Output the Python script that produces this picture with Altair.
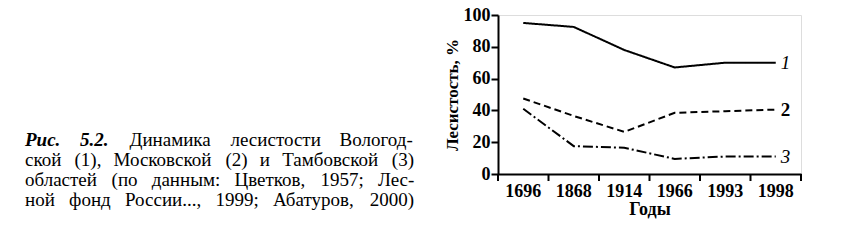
import altair as alt
import pandas as pd

# Forest cover (%) by year for three regions
years = ["1696", "1868", "1914", "1966", "1993", "1998"]
vologda = [95, 92.5, 78, 67, 70, 70]
moscow = [47.5, 36.5, 26.5, 38.5, 39.5, 40.5]
tambov = [41, 17.5, 16.5, 9.5, 11, 11]
series_names = ["1", "2", "3"]

caption_lines = [
    "Рис. 5.2. Динамика лесистости Вологод-",
    "ской (1), Московской (2) и Тамбовской (3)",
    "областей (по данным: Цветков, 1957; Лес-",
    "ной фонд России..., 1999; Абатуров, 2000)",
]
caption_bold_words = {"Рис.", "5.2."}

rows = []
for name, values in zip(series_names, [vologda, moscow, tambov]):
    for y, v in zip(years, values):
        rows.append({"year": y, "value": v, "series": name})
df = pd.DataFrame(rows)
last = df[df["year"] == years[-1]]

FONT = "Liberation Serif"
W, H = 303, 159
LEFT, TOP = 498, 15

x_scale = alt.Scale(type="band", paddingInner=0, paddingOuter=0)
x_axis = alt.Axis(
    title="Годы",
    ticks=False,
    labelAngle=0,
    labelFont=FONT,
    labelFontSize=18,
    labelFontWeight="bold",
    labelColor="black",
    labelPadding=8,
    labelOverlap=False,
    titleFont=FONT,
    titleFontSize=18,
    titleFontWeight="bold",
    titleColor="black",
    titlePadding=0,
    domainColor="black",
    domainWidth=2,
)
y_scale = alt.Scale(domain=[0, 100], nice=False, zero=True)
y_axis = alt.Axis(
    title="Лесистость, %",
    values=[0, 20, 40, 60, 80, 100],
    grid=False,
    tickSize=7,
    tickWidth=2,
    tickColor="black",
    labelFont=FONT,
    labelFontSize=18,
    labelFontWeight="bold",
    labelColor="black",
    labelPadding=1,
    labelOverlap=False,
    labelFlush=False,
    labelBound=False,
    titleFont=FONT,
    titleFontSize=17,
    titleFontWeight="bold",
    titleColor="black",
    titlePadding=2,
    domainColor="black",
    domainWidth=2,
)


def x_enc(**kw):
    return alt.X("year:O", sort=years, scale=x_scale, axis=x_axis, **kw)


def y_enc():
    return alt.Y("value:Q", scale=y_scale, axis=y_axis)


dash_styles = {"1": [1, 0], "2": [7, 4], "3": [10, 3, 2, 3]}

lines = []
for name in series_names:
    lines.append(
        alt.Chart(df[df["series"] == name])
        .mark_line(color="black", strokeWidth=2, strokeDash=dash_styles[name])
        .encode(x=x_enc(), y=y_enc())
    )

# Series numbers next to the line ends
label_styles = {"1": ("italic", "normal"), "2": ("normal", "bold"), "3": ("italic", "normal")}
labels = []
for name in series_names:
    style, weight = label_styles[name]
    labels.append(
        alt.Chart(last[last["series"] == name])
        .mark_text(
            align="left", baseline="middle", dx=5, font=FONT, fontSize=19,
            fontStyle=style, fontWeight=weight, color="black",
        )
        .encode(x=x_enc(), y=y_enc(), text="series:N")
    )

# Tick marks on the category boundaries
tick_df = pd.DataFrame({"year": years})
ticks = alt.Chart(tick_df).mark_rule(color="black", strokeWidth=2).encode(
    x=x_enc(bandPosition=0),
    y=alt.value(H),
    y2=alt.value(H + 7),
)
end_tick = alt.Chart(tick_df.head(1)).mark_rule(color="black", strokeWidth=2).encode(
    x=alt.value(W), y=alt.value(H), y2=alt.value(H + 7)
)

# Justified caption: approximate serif advance widths (em) for word layout
ADV = {
    "а": .444, "б": .509, "в": .472, "г": .410, "д": .509, "е": .444, "ж": .691,
    "з": .395, "и": .535, "й": .535, "к": .486, "л": .499, "м": .633, "н": .535,
    "о": .5, "п": .535, "р": .5, "с": .444, "т": .437, "у": .5, "ф": .648,
    "х": .5, "ц": .535, "ч": .503, "ш": .770, "щ": .770, "ъ": .517, "ы": .672,
    "ь": .456, "э": .429, "ю": .747, "я": .486,
    "А": .722, "Б": .574, "В": .667, "Г": .578, "Д": .682, "Л": .677, "М": .889,
    "Р": .556, "Т": .611, "Ц": .722,
    "(": .333, ")": .333, ",": .25, ".": .25, ";": .278, ":": .278, "-": .333,
}
CAP = 19
CAP_LEFT, CAP_RIGHT = 25, 414
CAP_BASE, CAP_STEP = 146, 20


def word_width(word, bold=False):
    w = sum(ADV.get(ch, 0.5) for ch in word) * CAP
    return w * (1.05 if bold else 1.0)


captions = []
for i, line in enumerate(caption_lines):
    words = line.split(" ")
    widths = [word_width(w, w in caption_bold_words) for w in words]
    gap = (CAP_RIGHT - CAP_LEFT - sum(widths)) / (len(words) - 1)
    xpos = CAP_LEFT
    for word, wd in zip(words, widths):
        bold = word in caption_bold_words
        captions.append(
            alt.Chart(pd.DataFrame({"t": [word]}))
            .mark_text(
                align="left", baseline="alphabetic", font=FONT, fontSize=CAP,
                fontStyle="italic" if bold else "normal",
                fontWeight="bold" if bold else "normal", color="black",
            )
            .encode(
                x=alt.value(xpos - LEFT),
                y=alt.value(CAP_BASE + i * CAP_STEP - TOP),
                text="t:N",
            )
        )
        xpos += wd + gap

chart = (
    alt.layer(*lines, *labels, ticks, end_tick, *captions)
    .properties(
        width=W,
        height=H,
        autosize=alt.AutoSizeParams(type="none"),
        padding={"left": LEFT, "top": TOP, "right": 841 - LEFT - W, "bottom": 242 - TOP - H},
    )
    .configure_view(stroke="black", strokeWidth=2)
    .configure(background="white")
)

chart.save("out.html", embed_options={"renderer": "svg", "actions": False})
